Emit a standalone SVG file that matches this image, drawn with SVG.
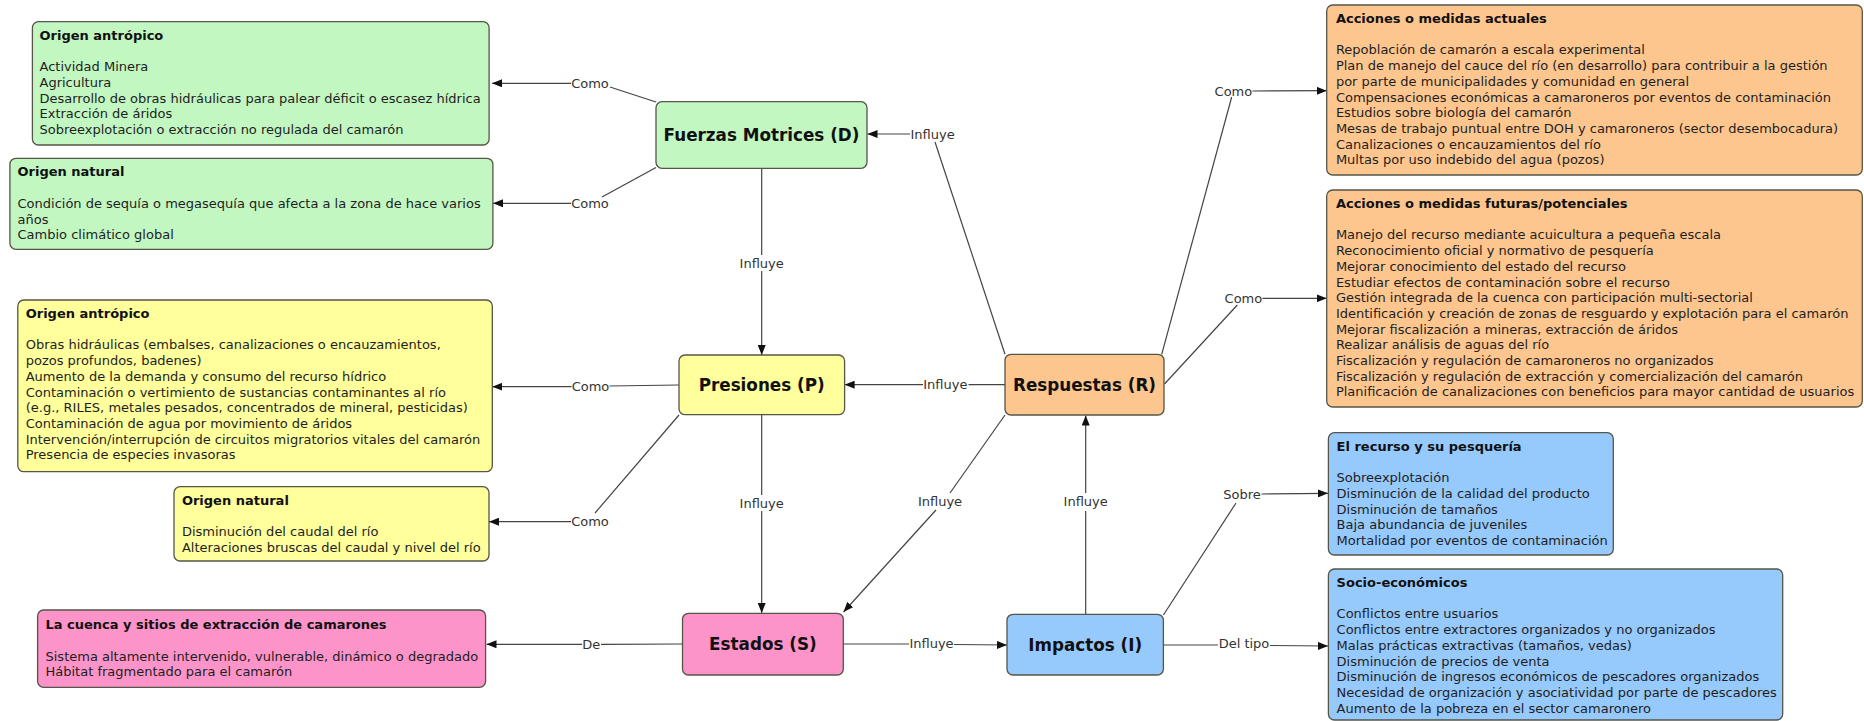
<svg xmlns="http://www.w3.org/2000/svg" width="1864" height="721" viewBox="0 0 1864 721">
<defs>
<marker id="arr" viewBox="0 0 10 8" refX="10" refY="4" markerWidth="10" markerHeight="8" markerUnits="userSpaceOnUse" orient="auto">
<path d="M0,0 L10,4 L0,8 z" fill="#111"/>
</marker>
<style>
.box{stroke:#555548;stroke-width:1.3}
.g{fill:#c2f7c2}.y{fill:#ffff9c}.o{fill:#fdc68e}.b{fill:#96c9fc}.p{fill:#fc94c9}
.t{font-family:"DejaVu Sans","Verdana",sans-serif;font-size:13px;fill:#1e1e1e}
.h{font-family:"DejaVu Sans","Verdana",sans-serif;font-size:13px;font-weight:bold;fill:#111}
.n{font-family:"DejaVu Sans","Verdana",sans-serif;font-size:16.8px;font-weight:bold;fill:#111;text-anchor:middle}
.l{font-family:"DejaVu Sans","Verdana",sans-serif;font-size:13px;fill:#333;text-anchor:middle}
.c line{stroke:#444;stroke-width:1.2}
.a{marker-end:url(#arr)}
</style>
</defs>
<rect width="1864" height="721" fill="#fff"/>

<g id="connectors" class="c">
<line x1="656" y1="102" x2="610" y2="87"/>
<line class="a" x1="571" y1="83.3" x2="492" y2="83.3"/>
<line x1="656" y1="167.5" x2="602" y2="197"/>
<line class="a" x1="571" y1="203.3" x2="493" y2="203.3"/>
<line x1="761.7" y1="168.3" x2="761.7" y2="255"/>
<line class="a" x1="761.7" y1="271" x2="761.7" y2="355"/>
<line x1="1005" y1="354.3" x2="935" y2="142"/>
<line class="a" x1="910" y1="134" x2="867.5" y2="134"/>
<line x1="1161.7" y1="354.3" x2="1231.7" y2="97"/>
<line class="a" x1="1252.5" y1="91" x2="1326.7" y2="90.7"/>
<line x1="1164.5" y1="384" x2="1237.3" y2="305"/>
<line class="a" x1="1262.5" y1="298.3" x2="1326.7" y2="298.3"/>
<line x1="1005" y1="384.7" x2="968.5" y2="384.7"/>
<line class="a" x1="923" y1="384.7" x2="844.6" y2="384.7"/>
<line x1="679" y1="385" x2="609.5" y2="386"/>
<line class="a" x1="571.5" y1="386.7" x2="492.3" y2="386.7"/>
<line x1="679" y1="415" x2="595" y2="513"/>
<line class="a" x1="571" y1="521.7" x2="489" y2="521.7"/>
<line x1="761.7" y1="414.5" x2="761.7" y2="495"/>
<line class="a" x1="761.7" y1="511" x2="761.7" y2="613"/>
<line x1="1005" y1="415" x2="950" y2="493"/>
<line class="a" x1="936" y1="510" x2="843.5" y2="612"/>
<line x1="1085.7" y1="614.3" x2="1085.7" y2="511"/>
<line class="a" x1="1085.7" y1="493" x2="1085.7" y2="415.5"/>
<line x1="843.3" y1="644" x2="909" y2="644"/>
<line class="a" x1="954" y1="644.5" x2="1007" y2="645"/>
<line x1="682.5" y1="644" x2="601" y2="644.3"/>
<line class="a" x1="582" y1="644.3" x2="486.5" y2="644.3"/>
<line x1="1163.4" y1="615" x2="1236" y2="503"/>
<line class="a" x1="1261.5" y1="494" x2="1328" y2="493.3"/>
<line x1="1163.4" y1="645" x2="1218" y2="645"/>
<line class="a" x1="1270" y1="645.5" x2="1328" y2="646"/>
<text class="l" x="590" y="88">Como</text>
<text class="l" x="590" y="208">Como</text>
<text class="l" x="761.7" y="268">Influye</text>
<text class="l" x="932.6" y="138.7">Influye</text>
<text class="l" x="1233.4" y="96.4">Como</text>
<text class="l" x="1243.4" y="303">Como</text>
<text class="l" x="945.3" y="389.4">Influye</text>
<text class="l" x="590.5" y="391.4">Como</text>
<text class="l" x="590" y="526.4">Como</text>
<text class="l" x="761.7" y="508">Influye</text>
<text class="l" x="940" y="506.4">Influye</text>
<text class="l" x="1085.7" y="506.4">Influye</text>
<text class="l" x="931.5" y="648">Influye</text>
<text class="l" x="591.3" y="649">De</text>
<text class="l" x="1242" y="499">Sobre</text>
<text class="l" x="1244" y="648">Del tipo</text>
</g>

<g id="D">
<rect class="box g" x="656" y="101.7" width="211" height="66.6" rx="6"/>
<text class="n" x="761.5" y="141">Fuerzas Motrices (D)</text>
</g>
<g id="P">
<rect class="box y" x="679" y="355" width="165.6" height="59.7" rx="6"/>
<text class="n" x="761.7" y="390.7">Presiones (P)</text>
</g>
<g id="R">
<rect class="box o" x="1005" y="354.3" width="159" height="60.7" rx="6"/>
<text class="n" x="1084.5" y="390.7">Respuestas (R)</text>
</g>
<g id="S">
<rect class="box p" x="682.5" y="613.3" width="160.8" height="61.7" rx="6"/>
<text class="n" x="762.9" y="650">Estados (S)</text>
</g>
<g id="I">
<rect class="box b" x="1007" y="614.3" width="156.4" height="60.7" rx="6"/>
<text class="n" x="1085.2" y="650.7">Impactos (I)</text>
</g>

<g id="D-antropico">
<rect class="box g" x="32.4" y="21.7" width="456.7" height="123.3" rx="6"/>
<text class="h" x="39.5" y="39.7">Origen antrópico</text>
<text class="t" x="39.5" y="71.1"><tspan x="39.5">Actividad Minera</tspan><tspan x="39.5" dy="15.7">Agricultura</tspan><tspan x="39.5" dy="15.7">Desarrollo de obras hidráulicas para palear déficit o escasez hídrica</tspan><tspan x="39.5" dy="15.7">Extracción de áridos</tspan><tspan x="39.5" dy="15.7">Sobreexplotación o extracción no regulada del camarón</tspan></text>
</g>
<g id="D-natural">
<rect class="box g" x="9.9" y="158.3" width="483" height="91" rx="6"/>
<text class="h" x="17.5" y="176.4">Origen natural</text>
<text class="t" x="17.5" y="207.8"><tspan x="17.5">Condición de sequía o megasequía que afecta a la zona de hace varios</tspan><tspan x="17.5" dy="15.7">años</tspan><tspan x="17.5" dy="15.7">Cambio climático global</tspan></text>
</g>
<g id="P-antropico">
<rect class="box y" x="17.8" y="300" width="474.5" height="171.7" rx="6"/>
<text class="h" x="25.7" y="318">Origen antrópico</text>
<text class="t" x="25.7" y="349.4"><tspan x="25.7">Obras hidráulicas (embalses, canalizaciones o encauzamientos,</tspan><tspan x="25.7" dy="15.7">pozos profundos, badenes)</tspan><tspan x="25.7" dy="15.7">Aumento de la demanda y consumo del recurso hídrico</tspan><tspan x="25.7" dy="15.7">Contaminación o vertimiento de sustancias contaminantes al río</tspan><tspan x="25.7" dy="15.7">(e.g., RILES, metales pesados, concentrados de mineral, pesticidas)</tspan><tspan x="25.7" dy="15.7">Contaminación de agua por movimiento de áridos</tspan><tspan x="25.7" dy="15.7">Intervención/interrupción de circuitos migratorios vitales del camarón</tspan><tspan x="25.7" dy="15.7">Presencia de especies invasoras</tspan></text>
</g>
<g id="P-natural">
<rect class="box y" x="174" y="486.7" width="315" height="74.3" rx="6"/>
<text class="h" x="181.9" y="504.7">Origen natural</text>
<text class="t" x="181.9" y="536.1"><tspan x="181.9">Disminución del caudal del río</tspan><tspan x="181.9" dy="15.7">Alteraciones bruscas del caudal y nivel del río</tspan></text>
</g>
<g id="S-cuenca">
<rect class="box p" x="37.6" y="610" width="448" height="77.3" rx="6"/>
<text class="h" x="45.5" y="629">La cuenca y sitios de extracción de camarones</text>
<text class="t" x="45.5" y="660.6"><tspan x="45.5">Sistema altamente intervenido, vulnerable, dinámico o degradado</tspan><tspan x="45.5" dy="15.7">Hábitat fragmentado para el camarón</tspan></text>
</g>
<g id="R-actuales">
<rect class="box o" x="1326.7" y="5" width="535.6" height="170" rx="6"/>
<text class="h" x="1335.9" y="23">Acciones o medidas actuales</text>
<text class="t" x="1335.9" y="54.4"><tspan x="1335.9">Repoblación de camarón a escala experimental</tspan><tspan x="1335.9" dy="15.7">Plan de manejo del cauce del río (en desarrollo) para contribuir a la gestión</tspan><tspan x="1335.9" dy="15.7">por parte de municipalidades y comunidad en general</tspan><tspan x="1335.9" dy="15.7">Compensaciones económicas a camaroneros por eventos de contaminación</tspan><tspan x="1335.9" dy="15.7">Estudios sobre biología del camarón</tspan><tspan x="1335.9" dy="15.7">Mesas de trabajo puntual entre DOH y camaroneros (sector desembocadura)</tspan><tspan x="1335.9" dy="15.7">Canalizaciones o encauzamientos del río</tspan><tspan x="1335.9" dy="15.7">Multas por uso indebido del agua (pozos)</tspan></text>
</g>
<g id="R-futuras">
<rect class="box o" x="1326.7" y="190" width="535.6" height="217" rx="6"/>
<text class="h" x="1335.9" y="208">Acciones o medidas futuras/potenciales</text>
<text class="t" x="1335.9" y="239.4"><tspan x="1335.9">Manejo del recurso mediante acuicultura a pequeña escala</tspan><tspan x="1335.9" dy="15.7">Reconocimiento oficial y normativo de pesquería</tspan><tspan x="1335.9" dy="15.7">Mejorar conocimiento del estado del recurso</tspan><tspan x="1335.9" dy="15.7">Estudiar efectos de contaminación sobre el recurso</tspan><tspan x="1335.9" dy="15.7">Gestión integrada de la cuenca con participación multi-sectorial</tspan><tspan x="1335.9" dy="15.7">Identificación y creación de zonas de resguardo y explotación para el camarón</tspan><tspan x="1335.9" dy="15.7">Mejorar fiscalización a mineras, extracción de áridos</tspan><tspan x="1335.9" dy="15.7">Realizar análisis de aguas del río</tspan><tspan x="1335.9" dy="15.7">Fiscalización y regulación de camaroneros no organizados</tspan><tspan x="1335.9" dy="15.7">Fiscalización y regulación de extracción y comercialización del camarón</tspan><tspan x="1335.9" dy="15.7">Planificación de canalizaciones con beneficios para mayor cantidad de usuarios</tspan></text>
</g>
<g id="I-recurso">
<rect class="box b" x="1328.4" y="432.7" width="284.9" height="122.3" rx="6"/>
<text class="h" x="1336.6" y="450.7">El recurso y su pesquería</text>
<text class="t" x="1336.6" y="482.1"><tspan x="1336.6">Sobreexplotación</tspan><tspan x="1336.6" dy="15.7">Disminución de la calidad del producto</tspan><tspan x="1336.6" dy="15.7">Disminución de tamaños</tspan><tspan x="1336.6" dy="15.7">Baja abundancia de juveniles</tspan><tspan x="1336.6" dy="15.7">Mortalidad por eventos de contaminación</tspan></text>
</g>
<g id="I-socio">
<rect class="box b" x="1328.4" y="569" width="454.3" height="151" rx="6"/>
<text class="h" x="1336.6" y="587">Socio-económicos</text>
<text class="t" x="1336.6" y="618.4"><tspan x="1336.6">Conflictos entre usuarios</tspan><tspan x="1336.6" dy="15.7">Conflictos entre extractores organizados y no organizados</tspan><tspan x="1336.6" dy="15.7">Malas prácticas extractivas (tamaños, vedas)</tspan><tspan x="1336.6" dy="15.7">Disminución de precios de venta</tspan><tspan x="1336.6" dy="15.7">Disminución de ingresos económicos de pescadores organizados</tspan><tspan x="1336.6" dy="15.7">Necesidad de organización y asociatividad por parte de pescadores</tspan><tspan x="1336.6" dy="15.7">Aumento de la pobreza en el sector camaronero</tspan></text>
</g>
</svg>
